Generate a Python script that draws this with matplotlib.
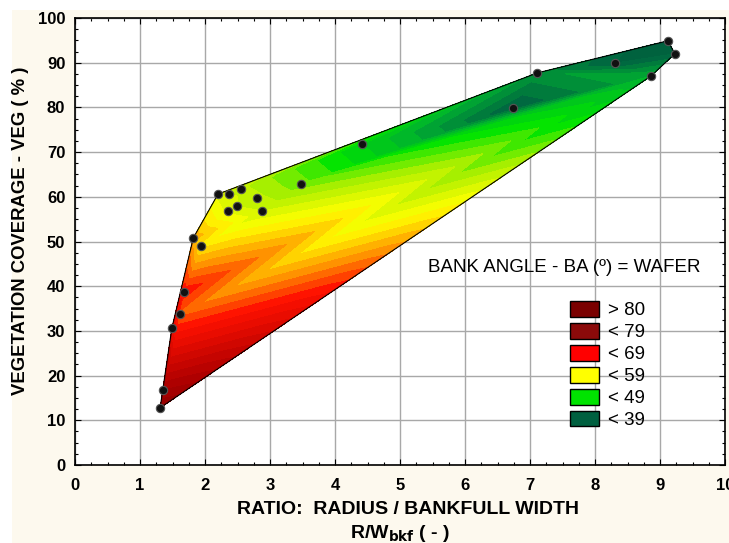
import numpy as np
import matplotlib
matplotlib.use("Agg")
import matplotlib.pyplot as plt
import matplotlib.tri as mtri
from matplotlib.colors import LinearSegmentedColormap, Normalize
from matplotlib.patches import Patch, Rectangle
from matplotlib.collections import LineCollection
from matplotlib.ticker import MultipleLocator, AutoMinorLocator

plt.rcParams['font.family'] = ['Liberation Sans', 'DejaVu Sans']

# Ratio R/Wbkf, vegetation coverage (%) and bank angle (deg) per site
ratio = [1.31, 1.36, 1.49, 1.62, 1.67, 1.82, 1.94, 2.20, 2.37, 2.35, 2.49,
         2.55, 2.80, 2.88, 3.48, 4.42, 6.74, 7.11, 8.31, 8.86, 9.12, 9.23]
veg = [12.8, 16.8, 30.6, 33.8, 38.7, 50.8, 49.0, 60.6, 60.6, 56.8, 57.9,
       61.8, 59.7, 56.8, 62.9, 71.8, 79.9, 87.7, 89.9, 87.0, 94.9, 92.0]
bank_angle = [83, 80, 72, 66, 69, 63, 60, 57, 56, 57, 56,
              55, 55, 56, 52, 47, 38, 42, 38, 44, 36, 38]

legend_labels = ['> 80', '< 79', '< 69', '< 59', '< 49', '< 39']
legend_colors = ['#7a0000', '#8b0a0a', '#ff0000', '#ffff00', '#00e400', '#006040']

x = np.array(ratio)
y = np.array(veg)
z = np.array(bank_angle)

vmin, vmax = 35.0, 88.0
anchors = [(35, '#005a3c'), (39, '#006a40'), (44, '#00b030'), (49, '#00e400'),
           (54, '#b0f000'), (59, '#ffff00'), (64, '#ff9a00'), (69, '#ff1000'),
           (79, '#b00000'), (88, '#700000')]
cmap = LinearSegmentedColormap.from_list(
    'bank', [((v - vmin) / (vmax - vmin), c) for v, c in anchors])

fig = plt.figure(figsize=(7.29, 5.43), dpi=100, facecolor='#fdf9ee')
fig.patches.append(Rectangle((0, 1 - 10 / 543), 1, 10 / 543, transform=fig.transFigure,
                             facecolor='white', edgecolor='none', zorder=-1))
fig.patches.append(Rectangle((0, 0), 12 / 729, 1, transform=fig.transFigure,
                             facecolor='white', edgecolor='none', zorder=-1))

ax = fig.add_axes([75 / 729, 1 - 465 / 543, 650 / 729, 447 / 543])
ax.set_facecolor('white')

tri = mtri.Triangulation(x, y)
levels = np.arange(vmin, vmax + 0.1, 1.5)
ax.tricontourf(tri, z, levels=levels, cmap=cmap, norm=Normalize(vmin, vmax),
               extend='both', zorder=2)

# outline of the interpolated area (triangulation boundary)
segs = []
for t, nb in zip(tri.triangles, tri.neighbors):
    for j in range(3):
        if nb[j] == -1:
            a, b = t[j], t[(j + 1) % 3]
            segs.append([(x[a], y[a]), (x[b], y[b])])
ax.add_collection(LineCollection(segs, colors='black', linewidths=0.8, zorder=3))

ax.plot(x, y, 'o', ms=6, mfc='#111111', mec='#555555', mew=0.8, zorder=4)

ax.set_xlim(0, 10)
ax.set_ylim(0, 100)
ax.xaxis.set_major_locator(MultipleLocator(1))
ax.yaxis.set_major_locator(MultipleLocator(10))
ax.xaxis.set_minor_locator(AutoMinorLocator(4))
ax.yaxis.set_minor_locator(AutoMinorLocator(4))
ax.grid(True, which='major', color='#a8a8a8', lw=1.0, zorder=1)
ax.set_axisbelow(True)
ax.tick_params(which='both', direction='in', top=True, right=True,
               labelsize=12, width=0.8)
ax.tick_params(which='major', length=4)
ax.tick_params(axis='x', which='major', pad=9)
ax.tick_params(axis='y', which='major', pad=7)
ax.tick_params(which='minor', length=2.5)
for lab in ax.get_xticklabels() + ax.get_yticklabels():
    lab.set_fontweight('bold')
for s in ax.spines.values():
    s.set_linewidth(1.2)

fig.text(408 / 729, 1 - 509 / 543, 'RATIO:  RADIUS / BANKFULL WIDTH',
         ha='center', va='center', fontsize=14, fontweight='bold')
fig.text(400 / 729, 1 - 533 / 543, r'R/W$_{\mathbf{bkf}}$ ( - )',
         ha='center', va='center', fontsize=14, fontweight='bold')
fig.text(21 / 729, 1 - 231 / 543, 'VEGETATION COVERAGE - VEG ( % )',
         ha='center', va='center', rotation=90, fontsize=13.3, fontweight='bold')

fig.text(564 / 729, 1 - 267 / 543, 'BANK ANGLE - BA (º) = WAFER',
         ha='center', va='center', fontsize=13.5)

handles = [Patch(facecolor=c, edgecolor='black', lw=1.0) for c in legend_colors]
leg = ax.legend(handles, legend_labels, loc='upper left', frameon=False,
                fontsize=13.5, handlelength=1.55, handleheight=0.92,
                handletextpad=0.45, labelspacing=0.19, borderaxespad=0,
                borderpad=0)
leg.set_bbox_to_anchor((570 / 729, 1 - 301 / 543), transform=fig.transFigure)

fig.savefig('out.png', dpi=100, facecolor=fig.get_facecolor())
